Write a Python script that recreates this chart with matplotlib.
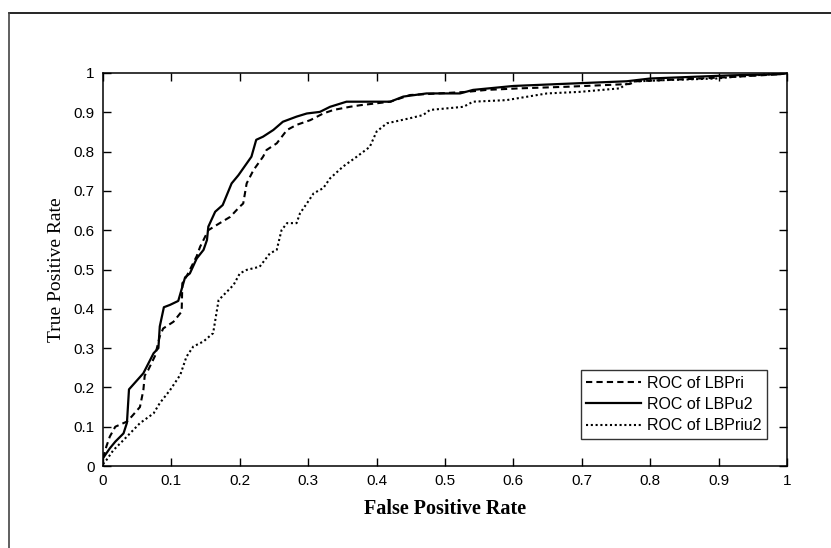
import numpy as np
import matplotlib
matplotlib.use("Agg")
import matplotlib.pyplot as plt
from matplotlib.lines import Line2D

# ROC of LBPri (dashed)
fpr_ri = [0, 0.005, 0.01, 0.018, 0.035, 0.042, 0.054, 0.059, 0.061, 0.066, 0.076, 0.083,
          0.088, 0.103, 0.115, 0.116, 0.122, 0.137, 0.142, 0.154, 0.166, 0.186, 0.2, 0.205,
          0.21, 0.22, 0.234, 0.239, 0.254, 0.269, 0.283, 0.303, 0.322, 0.337, 0.361, 0.376,
          0.42, 0.449, 0.532, 0.561, 0.61, 0.678, 0.77, 0.78, 0.848, 0.921, 0.99, 1.0]
tpr_ri = [0.02, 0.05, 0.075, 0.10, 0.113, 0.126, 0.15, 0.193, 0.23, 0.244, 0.28, 0.33,
          0.35, 0.367, 0.393, 0.465, 0.482, 0.534, 0.558, 0.600, 0.613, 0.634, 0.660, 0.668,
          0.719, 0.753, 0.787, 0.804, 0.821, 0.855, 0.868, 0.880, 0.897, 0.906, 0.914, 0.918,
          0.927, 0.944, 0.952, 0.957, 0.961, 0.965, 0.972, 0.979, 0.984, 0.990, 0.997, 1.0]

# ROC of LBPu2 (solid)
fpr_u2 = [0, 0.01, 0.018, 0.03, 0.035, 0.038, 0.059, 0.074, 0.081, 0.083, 0.089, 0.098,
          0.11, 0.12, 0.127, 0.137, 0.147, 0.152, 0.154, 0.164, 0.175, 0.188, 0.198, 0.217,
          0.224, 0.234, 0.249, 0.263, 0.283, 0.298, 0.317, 0.332, 0.356, 0.42, 0.439, 0.473,
          0.522, 0.541, 0.60, 0.668, 0.766, 0.80, 0.917, 0.99, 1.0]
tpr_u2 = [0.02, 0.045, 0.062, 0.083, 0.11, 0.195, 0.236, 0.287, 0.30, 0.355, 0.404, 0.41,
          0.42, 0.48, 0.49, 0.528, 0.55, 0.575, 0.609, 0.647, 0.664, 0.719, 0.740, 0.787,
          0.830, 0.838, 0.855, 0.876, 0.889, 0.897, 0.901, 0.914, 0.927, 0.927, 0.940, 0.948,
          0.948, 0.957, 0.967, 0.972, 0.979, 0.986, 0.994, 0.997, 1.0]

# ROC of LBPriu2 (dotted)
fpr_riu2 = [0, 0.005, 0.015, 0.03, 0.054, 0.074, 0.083, 0.098, 0.113, 0.122, 0.132, 0.147,
            0.161, 0.169, 0.191, 0.2, 0.21, 0.229, 0.244, 0.254, 0.261, 0.269, 0.283, 0.288,
            0.298, 0.308, 0.322, 0.332, 0.351, 0.371, 0.39, 0.40, 0.415, 0.449, 0.468, 0.478,
            0.527, 0.541, 0.59, 0.649, 0.697, 0.756, 0.77, 0.824, 0.897, 0.921, 1.0]
tpr_riu2 = [0.005, 0.015, 0.04, 0.066, 0.109, 0.134, 0.16, 0.193, 0.232, 0.278, 0.304, 0.317,
            0.338, 0.422, 0.461, 0.49, 0.499, 0.507, 0.541, 0.55, 0.60, 0.618, 0.618, 0.643,
            0.668, 0.694, 0.707, 0.732, 0.762, 0.787, 0.812, 0.851, 0.872, 0.885, 0.893, 0.906,
            0.914, 0.927, 0.931, 0.948, 0.952, 0.961, 0.978, 0.982, 0.986, 0.990, 1.0]

labels = ["ROC of LBPri", "ROC of LBPu2", "ROC of LBPriu2"]
ticks = np.round(np.arange(0, 1.01, 0.1), 1)
tick_labels = ["0" if t == 0 else ("1" if t == 1 else "%.1f" % t) for t in ticks]

fig = plt.figure(figsize=(8.31, 5.48), dpi=100)
ax = fig.add_axes([103/831, 82/548, 684/831, 393/548])

ax.plot(fpr_ri, tpr_ri, color="black", lw=1.5, linestyle=(0, (3, 2)), label=labels[0])
ax.plot(fpr_u2, tpr_u2, color="black", lw=1.6, linestyle="-", label=labels[1])
ax.plot(fpr_riu2, tpr_riu2, color="black", lw=1.5, linestyle=(0, (1, 1.3)), label=labels[2])

ax.set_xlim(0, 1)
ax.set_ylim(0, 1)
ax.set_xticks(ticks)
ax.set_yticks(ticks)
ax.set_xticklabels(tick_labels, family="Liberation Sans", fontsize=11)
ax.set_yticklabels(tick_labels, family="Liberation Sans", fontsize=11)
ax.tick_params(direction="in", length=6, width=1, top=True, right=True, pad=6)
for s in ax.spines.values():
    s.set_linewidth(1.1)

ax.set_xlabel("False Positive Rate", family="Liberation Serif", fontsize=14.5,
              fontweight="bold", labelpad=8)
ax.set_ylabel("True Positive Rate", family="Liberation Serif", fontsize=14, labelpad=6)

leg = ax.legend(loc="lower right", bbox_to_anchor=(0.971, 0.069), borderaxespad=0,
                prop={"family": "Liberation Sans", "size": 11.5}, frameon=True,
                fancybox=False, edgecolor="black", handlelength=3.4, handletextpad=0.4,
                labelspacing=0.4, borderpad=0.35)
leg.get_frame().set_linewidth(1.0)

# outer figure frame (only top and left edges visible)
fig.add_artist(Line2D([9/831, 1.0], [1 - 13/548, 1 - 13/548], color="black", lw=1.2,
                      transform=fig.transFigure))
fig.add_artist(Line2D([9/831, 9/831], [0.0, 1 - 13/548], color="#444444", lw=1.2,
                      transform=fig.transFigure))

fig.savefig("out.png", dpi=100)
